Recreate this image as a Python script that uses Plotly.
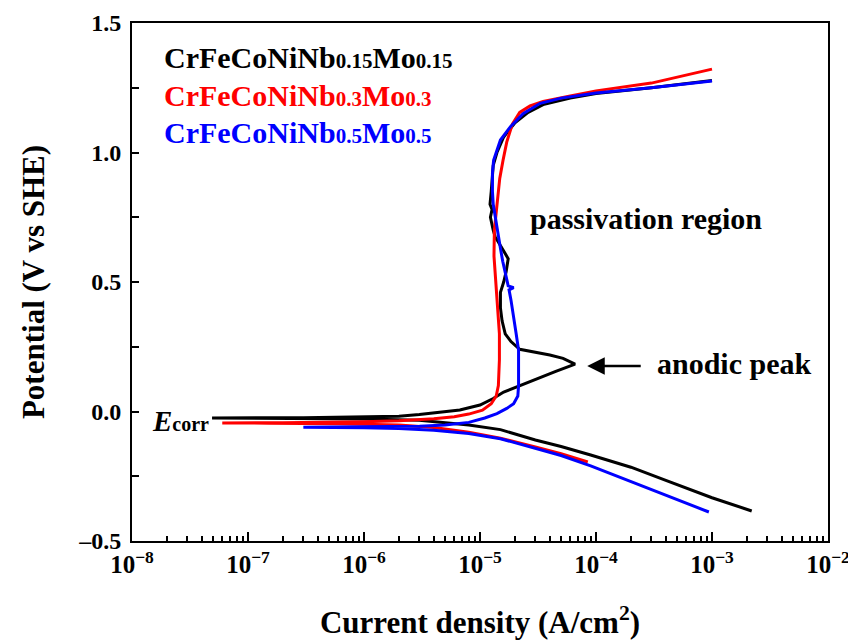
import plotly.graph_objects as go
import math

# ---------------- data ----------------
# CrFeCoNiNb0.15Mo0.15 (black): cathodic end -> Ecorr -> anodic branch
black_i = [2.2e-3, 1e-3, 4e-4, 2e-4, 9e-5, 5e-5, 3e-5, 1.5e-5, 8e-6, 5e-6, 3e-6, 1e-6, 3e-7, 4.9e-8,
           3e-7, 1e-6, 2e-6, 3e-6, 5e-6, 6.7e-6, 1e-5, 1.3e-5, 1.6e-5, 2.2e-5, 3.3e-5, 4.5e-5, 6.6e-5,
           5.2e-5, 4e-5, 2.8e-5, 2.2e-5, 1.85e-5, 1.65e-5, 1.55e-5, 1.5e-5, 1.5e-5, 1.6e-5, 1.68e-5,
           1.75e-5, 1.6e-5, 1.45e-5, 1.35e-5, 1.3e-5, 1.23e-5, 1.27e-5, 1.22e-5, 1.25e-5, 1.3e-5,
           1.4e-5, 1.6e-5, 2e-5, 2.6e-5, 3.5e-5, 6e-5, 1e-4, 3e-4, 1e-3]
black_E = [-0.384, -0.333, -0.266, -0.215, -0.168, -0.135, -0.11, -0.07, -0.052, -0.042, -0.034, -0.029, -0.027, -0.025,
           -0.024, -0.022, -0.018, -0.012, -0.002, 0.006, 0.025, 0.05, 0.075, 0.10, 0.13, 0.155, 0.183,
           0.205, 0.218, 0.232, 0.24, 0.27, 0.30, 0.35, 0.40, 0.46, 0.50, 0.54,
           0.59, 0.62, 0.65, 0.675, 0.70, 0.75, 0.78, 0.80, 0.85, 0.95,
           1.0, 1.06, 1.115, 1.155, 1.185, 1.21, 1.228, 1.25, 1.278]

# CrFeCoNiNb0.3Mo0.3 (red)
red_i = [8.5e-5, 5e-5, 3e-5, 1.5e-5, 8e-6, 4e-6, 2e-6, 6e-7, 1.5e-7, 6e-8,
         2e-7, 1e-6, 2e-6, 4e-6, 6e-6, 8e-6, 1.05e-5, 1.25e-5, 1.38e-5, 1.44e-5, 1.47e-5, 1.47e-5,
         1.42e-5, 1.38e-5, 1.32e-5, 1.33e-5, 1.4e-5, 1.48e-5, 1.58e-5, 1.7e-5, 1.9e-5, 2.2e-5,
         2.7e-5, 3.5e-5, 6e-5, 1e-4, 3e-4, 1e-3]
red_E = [-0.195, -0.163, -0.137, -0.103, -0.08, -0.062, -0.052, -0.047, -0.045, -0.044,
         -0.043, -0.04, -0.036, -0.028, -0.02, -0.01, 0.005, 0.03, 0.06, 0.10, 0.20, 0.30,
         0.40, 0.50, 0.60, 0.70, 0.80, 0.90, 0.97, 1.04, 1.11, 1.155,
         1.18, 1.197, 1.218, 1.238, 1.268, 1.322]

# CrFeCoNiNb0.5Mo0.5 (blue)
blue_i = [9.4e-4, 5e-4, 3e-4, 1.5e-4, 9e-5, 5e-5, 3e-5, 1.5e-5, 8e-6, 4e-6, 2e-6, 1e-6, 3e-7,
          1e-6, 3e-6, 5e-6, 8e-6, 1.1e-5, 1.4e-5, 1.7e-5, 1.95e-5, 2.12e-5, 2.15e-5, 2.15e-5, 2.15e-5,
          2.05e-5, 1.95e-5, 1.85e-5, 1.78e-5, 1.95e-5, 1.75e-5, 1.66e-5, 1.57e-5, 1.5e-5, 1.42e-5,
          1.36e-5, 1.3e-5, 1.28e-5, 1.28e-5, 1.31e-5, 1.5e-5, 1.83e-5, 2.35e-5, 3.3e-5, 5e-5, 1e-4,
          3e-4, 1e-3]
blue_E = [-0.388, -0.34, -0.30, -0.25, -0.21, -0.17, -0.143, -0.105, -0.085, -0.072, -0.066, -0.063, -0.061,
          -0.06, -0.057, -0.052, -0.042, -0.025, -0.008, 0.012, 0.03, 0.06, 0.10, 0.17, 0.237,
          0.30, 0.37, 0.43, 0.47, 0.478, 0.485, 0.53, 0.58, 0.63, 0.69,
          0.74, 0.80, 0.85, 0.92, 0.97, 1.048, 1.10, 1.15, 1.19, 1.21, 1.23,
          1.25, 1.276]

series_names = ["CrFeCoNiNb0.15Mo0.15", "CrFeCoNiNb0.3Mo0.3", "CrFeCoNiNb0.5Mo0.5"]
series_i = [black_i, red_i, blue_i]
series_E = [black_E, red_E, blue_E]
series_colors = ["#000000", "#ff0000", "#0000ff"]
label_nb = ["0.15", "0.3", "0.5"]

x_tick_vals = [1e-8, 1e-7, 1e-6, 1e-5, 1e-4, 1e-3, 1e-2]
x_tick_text = ["10<sup>−8</sup>", "10<sup>−7</sup>", "10<sup>−6</sup>", "10<sup>−5</sup>",
               "10<sup>−4</sup>", "10<sup>−3</sup>", "10<sup>−2</sup>"]
y_tick_vals = [-0.5, 0.0, 0.5, 1.0, 1.5]
y_tick_text = ["–0.5", "0.0", "0.5", "1.0", "1.5"]

FONT = "Liberation Serif, Times New Roman, serif"

fig = go.Figure()
for name, xi, yi, col in zip(series_names, series_i, series_E, series_colors):
    fig.add_trace(go.Scatter(x=xi, y=yi, mode="lines", name=name,
                             line=dict(color=col, width=3), showlegend=False))

# legend-like coloured labels
leg_y = [1.365, 1.222, 1.076]
for nb, col, yy in zip(label_nb, series_colors, leg_y):
    txt = ("CrFeCoNiNb<span style='font-size:21px'>%s</span>Mo<span style='font-size:21px'>%s</span>"
           % (nb, nb))
    fig.add_annotation(x=math.log10(1.8e-8), y=yy, xref="x", yref="y", text=txt,
                       showarrow=False, xanchor="left", yanchor="middle",
                       font=dict(family=FONT, size=30, color=col, weight="bold"))

# E_corr label
fig.add_annotation(x=math.log10(1.42e-8), y=-0.035, xref="x", yref="y",
                   text="<i>E</i><span style='font-size:20px'>corr</span>",
                   showarrow=False, xanchor="left", yanchor="middle",
                   font=dict(family=FONT, size=29, color="black", weight="bold"))

# passivation region
fig.add_annotation(x=math.log10(2.6e-5), y=0.745, xref="x", yref="y",
                   text="passivation region", showarrow=False,
                   xanchor="left", yanchor="middle",
                   font=dict(family=FONT, size=30, color="black", weight="bold"))

# anodic peak text + arrow
fig.add_annotation(x=math.log10(3.25e-4), y=0.185, xref="x", yref="y",
                   text="anodic peak", showarrow=False,
                   xanchor="left", yanchor="middle",
                   font=dict(family=FONT, size=30, color="black", weight="bold"))
fig.add_annotation(x=math.log10(8.4e-5), y=0.176, xref="x", yref="y",
                   text="", showarrow=True, ax=55, ay=0,
                   arrowhead=2, arrowsize=1.4, arrowwidth=2.5, arrowcolor="black")

fig.update_xaxes(type="log", range=[-8, -2], automargin=False,
                 tickmode="array", tickvals=x_tick_vals, ticktext=x_tick_text,
                 ticklabeloverflow="allow",
                 ticks="inside", ticklen=9, tickwidth=2, tickcolor="black",
                 minor=dict(ticks="inside", ticklen=5, tickwidth=1.5, tickcolor="black",
                            tickmode="array",
                            tickvals=[m * 10 ** e for e in range(-8, -2) for m in range(2, 10)],
                            showgrid=False),
                 showline=True, linewidth=2, linecolor="black", mirror=True,
                 showgrid=False, zeroline=False,
                 tickfont=dict(family=FONT, size=25, color="black", weight="bold"),
                 title=dict(text="Current density (A/cm<sup>2</sup>)",
                            font=dict(family=FONT, size=31, color="black", weight="bold"),
                            standoff=34))
fig.update_yaxes(range=[-0.5, 1.5], automargin=False,
                 tickmode="array", tickvals=y_tick_vals, ticktext=y_tick_text,
                 ticks="inside", ticklen=7, tickwidth=2, tickcolor="black",
                 minor=dict(ticks="inside", ticklen=7, tickwidth=2, tickcolor="black",
                            tickmode="array", tickvals=[-0.25, 0.25, 0.75, 1.25], showgrid=False),
                 showline=True, linewidth=2, linecolor="black", mirror=True,
                 showgrid=False, zeroline=False, ticklabelstandoff=4,
                 tickfont=dict(family=FONT, size=24, color="black", weight="bold"),
                 title=dict(text="Potential (V vs SHE)",
                            font=dict(family=FONT, size=31, color="black", weight="bold"),
                            standoff=24))

fig.update_layout(width=848, height=642,
                  margin=dict(l=132, r=20, t=23, b=101),
                  paper_bgcolor="white", plot_bgcolor="white",
                  font=dict(family=FONT, color="black"))

fig.write_html("out.html")
